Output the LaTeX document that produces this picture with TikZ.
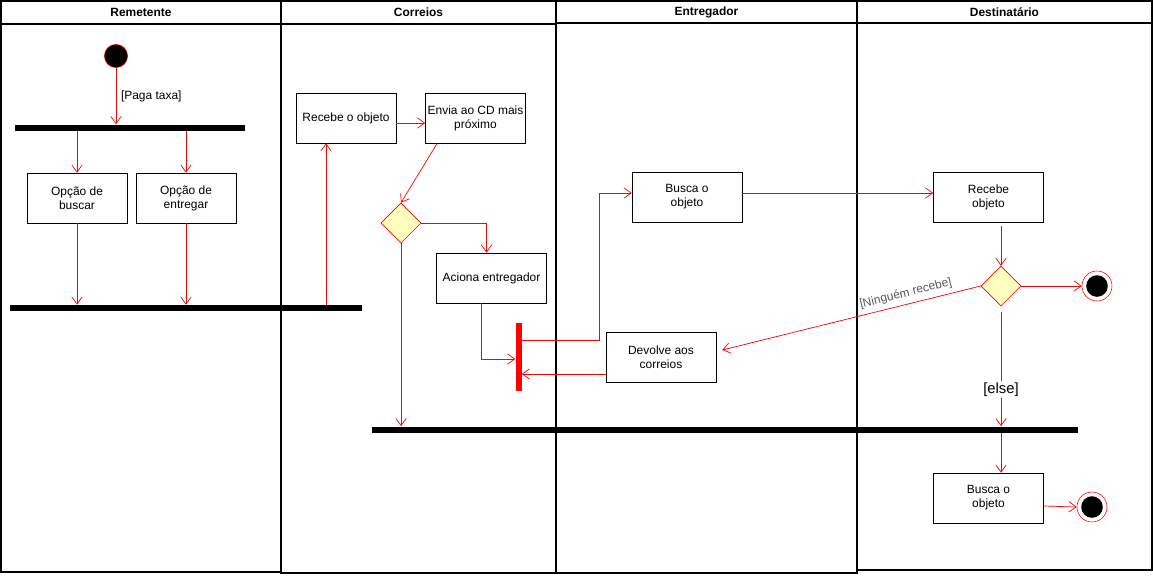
\documentclass[tikz,border=0pt]{standalone}
\usepackage{fontspec}
\setmainfont{Liberation Sans}
\usepackage{tikz}
\usetikzlibrary{arrows.meta,shapes.geometric}
\definecolor{decfill}{RGB}{255,255,192}
\definecolor{flowred}{RGB}{255,0,0}

\begin{document}
\begin{tikzpicture}[x=0.025cm,y=-0.025cm,
 font=\fontsize{8.5}{10}\selectfont,
 lane/.style={draw=black,line width=0.8pt},
 hd/.style={font=\fontsize{8.5}{10}\selectfont\bfseries},
 act/.style={draw=black,fill=white,minimum width=2.5cm,minimum height=1.25cm,align=center,inner sep=1pt},
 actw/.style={act,minimum width=2.75cm},
 bar/.style={fill=black,inner sep=0pt,minimum height=1.5mm},
 dec/.style={diamond,draw=flowred,fill=decfill,inner sep=0pt,minimum width=1cm,minimum height=1cm},
 ini/.style={circle,draw=flowred,fill=black,minimum size=5.8mm,inner sep=0pt},
 fin/.style={circle,draw=flowred,fill=white,minimum size=7.5mm,inner sep=0pt,
   path picture={\fill[black] (path picture bounding box.center) circle (2.7mm);}},
 ar/.style={-{Straight Barb[length=1.8mm,width=2.6mm]},draw=flowred,line width=0.5pt}]
\useasboundingbox (0,0) rectangle (1153,575);
% lanes
\draw[lane] (1,1) rectangle (281,572); \draw[lane] (1,24) -- (281,24);
\draw[lane] (281,1) rectangle (556,573); \draw[lane] (281,24) -- (556,24);
\draw[lane] (556,1) rectangle (857,573); \draw[lane] (556,23) -- (857,23);
\draw[lane] (857,1) rectangle (1152,570); \draw[lane] (857,23) -- (1152,23);
\node[hd] (hrem) at (141,12) {Remetente};
\node[hd] (hcor) at (418.5,12) {Correios};
\node[hd] (hent) at (706.5,12) {Entregador};
\node[hd] (hdes) at (1004.5,12) {Destinatário};
% nodes
\node[ini] (start) at (116,56) {};
\node[bar,minimum width=5.75cm] (fork) at (130,127.5) {};
\node[act] (buscar) at (77,198) {Opção de\\buscar};
\node[act] (entregar) at (186,198) {Opção de\\entregar};
\node[bar,minimum width=8.8cm] (join) at (186,308) {};
\node[act] (rcvobj) at (346,118) {Recebe o objeto};
\node[act] (envia) at (475.5,118) {Envia ao CD mais\\próximo};
\node[dec] (dec1) at (401,223) {};
\node[actw] (aciona) at (491.5,278) {Aciona entregador};
\node[fill=flowred,inner sep=0pt,minimum width=1.5mm,minimum height=1.7cm] (sync) at (518.5,357) {};
\node[actw] (busca) at (687,197) {Busca o\\objeto};
\node[actw] (devolve) at (661,357) {Devolve aos\\correios};
\node[actw] (rcvdest) at (988.5,197) {Recebe\\objeto};
\node[dec] (dec2) at (1001,286) {};
\node[fin] (end1) at (1097,286) {};
\node[bar,minimum width=17.63cm] (merge) at (725,429.5) {};
\node[actw] (buscadest) at (988.5,498) {Busca o\\objeto};
\node[fin] (end2) at (1092,507) {};
% flows
\draw[ar] (start) -- (start |- fork.north) node[midway,right] {[Paga taxa]};
\draw[ar] (fork.south -| buscar) -- (buscar);
\draw[ar] (fork.south -| entregar) -- (entregar);
\draw[ar] (buscar) -- (buscar |- join.north);
\draw[ar] (entregar) -- (entregar |- join.north);
\draw[ar] ([xshift=-5mm]rcvobj.south |- join.north) -- ([xshift=-5mm]rcvobj.south);
\draw[ar] ([yshift=-1.25mm]rcvobj.east) -- ([yshift=-1.25mm]envia.west);
\draw[ar] ([xshift=3mm]envia.south west) -- (dec1.north);
\draw[ar] (dec1.east) -| ([xshift=-1.25mm]aciona.north);
\draw[ar] (dec1.south) -- (dec1 |- merge.north);
\draw[ar] ([xshift=-2.65mm]aciona.south) |- ([yshift=-0.5mm]sync.west);
\draw[ar] ([yshift=4.25mm]sync.east) -- ++(77.5,0) |- ([yshift=1mm]busca.west);
\draw[ar] ([yshift=1mm]busca.east) -- ([yshift=1mm]rcvdest.west);
\draw[ar] ([yshift=-1mm]rcvdest.south -| dec2) -- (dec2.north);
\draw[ar] (dec2.east) -- (end1);
\draw[ar] (dec2.west) -- ([shift={(6,-7)}]devolve.east)
  node[pos=0.28,above,sloped,text=black!65] {[Ninguém recebe]};
\draw[ar] ([yshift=-4.25mm]devolve.west) -- ([yshift=-4.25mm]sync.east);
\draw[ar] ([yshift=-1.5mm]dec2.south) -- (dec2 |- merge.north)
  node[pos=0.68,fill=white,inner sep=1pt,font=\fontsize{10.5}{12}\selectfont] {[else]};
\draw[ar] (merge.south -| dec2) -- (dec2 |- buscadest.north);
\draw[ar] ([yshift=-2mm]buscadest.east) -- (end2.west);
\end{tikzpicture}
\end{document}
